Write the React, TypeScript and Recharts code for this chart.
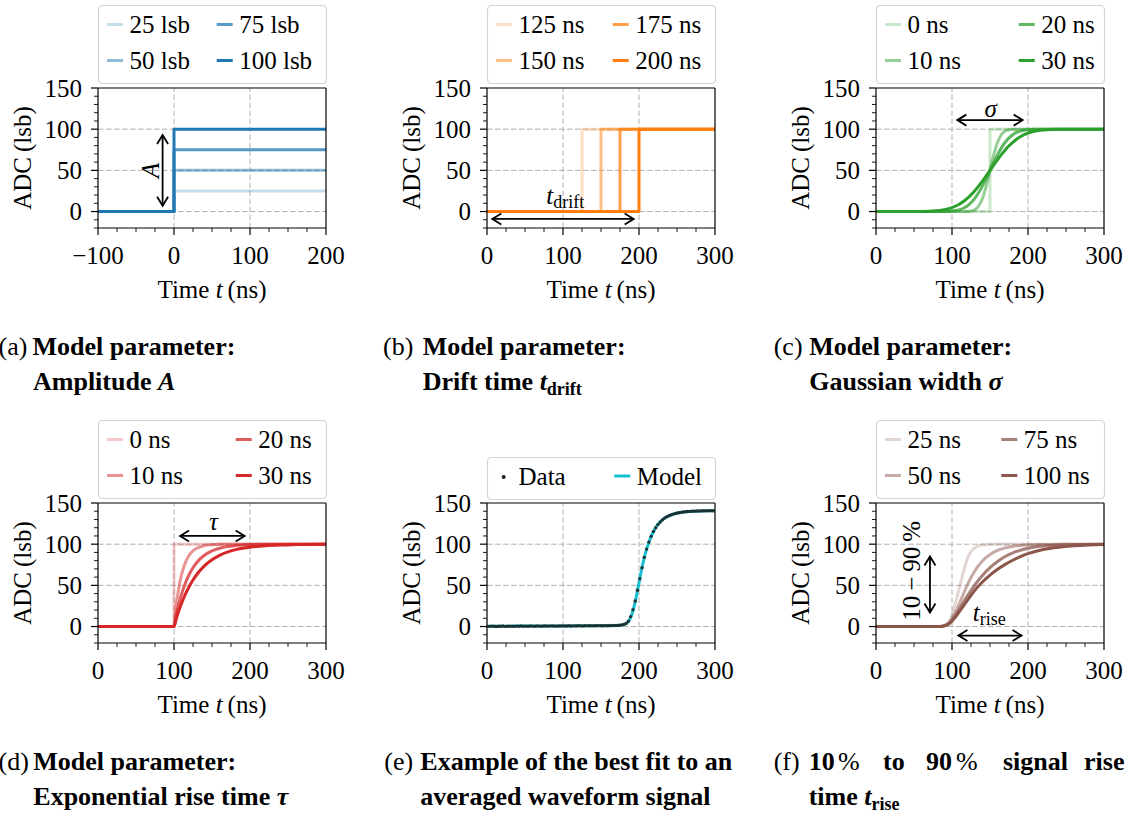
import React from 'react'
import { LineChart, Line, XAxis, YAxis, ReferenceLine, ReferenceDot } from 'recharts'

const FONT = '"Liberation Serif", "Times New Roman", serif'

// matplotlib tab colours, faded per parameter value
const BLUE = '#1f77b4'
const ORANGE = '#ff7f0e'
const GREEN = '#2ca02c'
const RED = '#d62728'
const BROWN = '#8c564b'
const CYAN = '#17becf'
const ALPHAS = [0.25, 0.5, 0.75, 1]

// ---- (a) amplitude A ----
const ampLabels = ['25 lsb', '50 lsb', '75 lsb', '100 lsb']
const ampT = [-100, 0, 0, 200]
const amp25 = [0, 0, 25, 25]
const amp50 = [0, 0, 50, 50]
const amp75 = [0, 0, 75, 75]
const amp100 = [0, 0, 100, 100]

// ---- (b) drift time ----
const driftLabels = ['125 ns', '150 ns', '175 ns', '200 ns']
const drift125T = [0, 125, 125, 300]
const drift150T = [0, 150, 150, 300]
const drift175T = [0, 175, 175, 300]
const drift200T = [0, 200, 200, 300]
const stepY = [0, 0, 100, 100]

// ---- (c) gaussian width ----
const sigmaLabels = ['0 ns', '10 ns', '20 ns', '30 ns']
const sig0T = [0, 150, 150, 300]
const sig10T = [0, 120, 125, 130, 135, 140, 145, 150, 155, 160, 165, 170, 175, 180, 190, 300]
const sig10Y = [0, 0, 0.6, 2.3, 6.7, 15.9, 30.9, 50, 69.1, 84.1, 93.3, 97.7, 99.4, 99.9, 100, 100]
const sig20T = [0, 80, 90, 100, 105, 110, 115, 120, 125, 130, 135, 140, 145, 150, 155, 160, 165, 170, 175, 180, 185, 190, 195, 200, 210, 220, 300]
const sig20Y = [0, 0, 0.1, 0.6, 1.2, 2.3, 4.0, 6.7, 10.6, 15.9, 22.7, 30.9, 40.1, 50, 59.9, 69.1, 77.3, 84.1, 89.4, 93.3, 96.0, 97.7, 98.8, 99.4, 99.9, 100, 100]
const sig30T = [0, 50, 60, 75, 90, 100, 105, 110, 115, 120, 125, 130, 135, 140, 145, 150, 155, 160, 165, 170, 175, 180, 185, 190, 195, 200, 210, 225, 240, 250, 300]
const sig30Y = [0, 0, 0.1, 0.6, 2.3, 4.8, 6.7, 9.1, 12.2, 15.9, 20.2, 25.3, 30.9, 36.9, 43.4, 50, 56.6, 63.1, 69.1, 74.8, 79.8, 84.1, 87.8, 90.9, 93.3, 95.2, 97.7, 99.4, 99.9, 100, 100]

// ---- (d) exponential rise time ----
const tauLabels = ['0 ns', '10 ns', '20 ns', '30 ns']
const tau0T = [0, 100, 100, 300]
const tau10T = [0, 100, 102, 104, 106, 108, 110, 113, 116, 120, 125, 130, 140, 150, 160, 175, 300]
const tau10Y = [0, 0, 18.1, 33.0, 45.1, 55.1, 63.2, 72.7, 79.8, 86.5, 91.8, 95.0, 98.2, 99.3, 99.8, 99.9, 100]
const tau20T = [0, 100, 103, 106, 110, 115, 120, 125, 130, 140, 150, 160, 170, 180, 200, 220, 250, 300]
const tau20Y = [0, 0, 13.9, 25.9, 39.3, 52.8, 63.2, 71.3, 77.7, 86.5, 91.8, 95.0, 97.0, 98.2, 99.3, 99.8, 99.9, 100]
const tau30T = [0, 100, 103, 106, 110, 115, 120, 125, 130, 140, 150, 160, 170, 180, 190, 200, 220, 240, 260, 300]
const tau30Y = [0, 0, 9.5, 18.1, 28.3, 39.3, 48.7, 56.5, 63.2, 73.6, 81.1, 86.5, 90.3, 93.1, 95.0, 96.4, 98.2, 99.1, 99.5, 99.9]

// ---- (e) averaged waveform and fitted model ----
const DATA_STEP_NS = 3
const waveData = [
  0.4, 0.2, 0.5, 0.3, 0.1, 0.4, 0.3, 0.6, 0.2, 0.4,
  0.5, 0.3, 0.2, 0.5, 0.4, 0.6, 0.3, 0.5, 0.4, 0.7,
  0.5, 0.3, 0.6, 0.5, 0.4, 0.7, 0.6, 0.5, 0.8, 0.6,
  0.5, 0.7, 0.6, 0.8, 0.7, 0.6, 0.9, 0.7, 0.8, 0.6,
  0.9, 0.8, 0.7, 1.0, 0.8, 0.9, 0.8, 1.0, 0.9, 1.1,
  0.9, 1.0, 1.1, 1.0, 1.2, 1.1, 1.2,
  1.2, 1.5, 1.9, 2.6, 3.6, 6.5, 12, 20.5, 31, 44,
  58, 71.5, 84, 94, 102.5, 109.5, 115.5, 120, 124, 127,
  129.6, 131.7, 133.4, 134.8, 135.9, 136.8, 137.5, 138.1, 138.6, 139,
  139.3, 139.6, 139.8, 140, 140.1, 140.3, 140.3, 140.4, 140.5, 140.4,
  140.6, 140.5, 140.6, 140.6,
]
const MODEL_STEP_NS = 5
const waveModel = [
  0.4, 0.4, 0.4, 0.4, 0.4, 0.4, 0.4, 0.5, 0.5, 0.5,
  0.5, 0.5, 0.5, 0.5, 0.6, 0.6, 0.6, 0.6, 0.6, 0.7,
  0.7, 0.7, 0.7, 0.8, 0.8, 0.8, 0.8, 0.9, 0.9, 0.9,
  1.0, 1.0, 1.0, 1.1,
  1.2, 1.5, 2.4, 5, 13, 30, 53, 76, 94, 107,
  117, 124, 129, 132.3, 134.7, 136.4, 137.6, 138.5, 139.1, 139.6,
  139.9, 140.1, 140.3, 140.4, 140.5, 140.6, 140.6,
]
const waveDataT = waveData.map((_, i) => i * DATA_STEP_NS)
const waveModelT = waveModel.map((_, i) => i * MODEL_STEP_NS)

// ---- (f) 10-90 % rise time ----
const riseLabels = ['25 ns', '50 ns', '75 ns', '100 ns']
const rise25T = [0, 80, 85, 90, 95, 100, 105, 110, 115, 120, 125, 130, 135, 140, 150, 160, 180, 300]
const rise25Y = [0, 0, 0.5, 1.5, 5, 14, 30, 48, 66, 82, 91, 95.5, 98, 99, 99.7, 99.9, 100, 100]
const rise50T = [0, 85, 90, 95, 100, 105, 110, 115, 120, 125, 130, 140, 150, 160, 170, 180, 190, 200, 220, 250, 300]
const rise50Y = [0, 0, 1, 3.5, 9.5, 18, 28.5, 39.5, 50, 59.5, 67.5, 79.5, 87.5, 92.5, 95.5, 97.3, 98.4, 99, 99.6, 99.9, 100]
const rise75T = [0, 85, 90, 95, 100, 105, 110, 115, 120, 125, 130, 140, 150, 160, 170, 180, 190, 200, 220, 240, 260, 300]
const rise75Y = [0, 0, 0.9, 3, 7.5, 14, 21.5, 29.5, 37, 44, 50.5, 62, 71.5, 79, 85, 89.5, 92.7, 95, 97.7, 99, 99.6, 100]
const rise100T = [0, 85, 90, 95, 100, 105, 110, 115, 120, 125, 130, 140, 150, 160, 170, 180, 190, 200, 220, 240, 260, 280, 300]
const rise100Y = [0, 0, 0.8, 2.5, 6.5, 12, 18.5, 25, 31.5, 38, 44, 54, 62.5, 69.5, 75.5, 80.5, 85, 88.5, 93.5, 96.3, 98, 99, 99.5]

// ---- axes ----
const Y_DOMAIN: [number, number] = [-20, 150]
const Y_TICKS = [-20, -10, 0, 10, 20, 30, 40, 50, 60, 70, 80, 90, 100, 110, 120, 130, 140, 150]
const Y_MAJOR = [0, 50, 100, 150]
const Y_GRID = [0, 50, 100]
const X_TICKS_A = [-100, -75, -50, -25, 0, 25, 50, 75, 100, 125, 150, 175, 200]
const X_MAJOR_A = [-100, 0, 100, 200]
const X_TICKS = [0, 25, 50, 75, 100, 125, 150, 175, 200, 225, 250, 275, 300]
const X_MAJOR = [0, 100, 200, 300]

// ---- geometry ----
const PLOT_W = 228
const PLOT_H = 140
const PAD_L = 100
const PAD_T = 30
const PAD_R = 40
const PAD_B = 80
const COL = [98, 487, 876]
const ROW = [88, 503]

type Pt = { t: number; y: number }
const zip = (t: number[], y: number[]): Pt[] => t.map((v, i) => ({ t: v, y: y[i] }))

interface Series {
  label: string
  color: string
  alpha: number
  t: number[]
  y: number[]
  smooth?: boolean
  dots?: boolean
}
interface Arrow { x1: number; y1: number; x2: number; y2: number }
interface Note { x: number; y: number; draw: (cx: number, cy: number) => React.ReactNode }

const fmt = (v: number) => (v < 0 ? '\u2212' + Math.abs(v) : String(v))

const makeXTick = (majors: number[]) => (p: any) => {
  const { x, y, payload } = p
  const major = majors.includes(payload.value)
  return (
    <g>
      <line x1={x} x2={x} y1={y} y2={y + (major ? 7 : 4)} stroke="#000" strokeWidth={major ? 1.2 : 0.9} />
      {major && (
        <text x={x} y={y + 35.5} textAnchor="middle" fontFamily={FONT} fontSize={25} fill="#000">
          {fmt(payload.value)}
        </text>
      )}
    </g>
  )
}

const yTick = (p: any) => {
  const { x, y, payload } = p
  const major = Y_MAJOR.includes(payload.value)
  return (
    <g>
      <line x1={x - (major ? 7 : 4)} x2={x} y1={y} y2={y} stroke="#000" strokeWidth={major ? 1.2 : 0.9} />
      {major && (
        <text x={x - 16} y={y + 8.5} textAnchor="end" fontFamily={FONT} fontSize={25} fill="#000">
          {fmt(payload.value)}
        </text>
      )}
    </g>
  )
}

// double headed "<->" arrow with open heads
const arrowShape = (p: any) => {
  const { x1, y1, x2, y2 } = p
  const dx = x2 - x1
  const dy = y2 - y1
  const len = Math.hypot(dx, dy) || 1
  const ux = dx / len
  const uy = dy / len
  const hl = 9
  const hw = 5.5
  const head = (px: number, py: number, dir: number) =>
    `M${px - dir * ux * hl - uy * hw},${py - dir * uy * hl + ux * hw} L${px},${py} L${px - dir * ux * hl + uy * hw},${py - dir * uy * hl - ux * hw}`
  return (
    <g stroke="#000" strokeWidth={1.8} fill="none" strokeLinejoin="miter">
      <line x1={x1} y1={y1} x2={x2} y2={y2} />
      <path d={head(x2, y2, 1)} />
      <path d={head(x1, y1, -1)} />
    </g>
  )
}

interface PanelProps {
  left: number
  top: number
  xDomain: [number, number]
  xTicks: number[]
  xMajor: number[]
  series: Series[]
  arrows: Arrow[]
  notes: Note[]
}

function Panel({ left, top, xDomain, xTicks, xMajor, series, arrows, notes }: PanelProps) {
  const xGrid = xMajor.filter((v) => v !== xDomain[0] && v !== xDomain[1])
  return (
    <div style={{ position: 'absolute', left: left - PAD_L, top: top - PAD_T }}>
      <LineChart
        width={PAD_L + PLOT_W + PAD_R}
        height={PAD_T + PLOT_H + PAD_B}
        margin={{ top: PAD_T, right: PAD_R, bottom: 0, left: 0 }}
      >
        <XAxis
          type="number"
          dataKey="t"
          domain={xDomain}
          ticks={xTicks}
          interval={0}
          allowDataOverflow
          height={PAD_B}
          tickSize={0}
          tickMargin={0}
          tickLine={false}
          axisLine={{ stroke: '#000', strokeWidth: 1.2 }}
          tick={makeXTick(xMajor)}
        />
        <YAxis
          type="number"
          domain={Y_DOMAIN}
          ticks={Y_TICKS}
          interval={0}
          allowDataOverflow
          width={PAD_L}
          tickSize={0}
          tickMargin={0}
          tickLine={false}
          axisLine={{ stroke: '#000', strokeWidth: 1.2 }}
          tick={yTick}
        />
        {xGrid.map((v) => (
          <ReferenceLine key={'gx' + v} x={v} stroke="#b0b0b0" strokeWidth={1} strokeDasharray="5.5 2.5" />
        ))}
        {Y_GRID.map((v) => (
          <ReferenceLine key={'gy' + v} y={v} stroke="#b0b0b0" strokeWidth={1} strokeDasharray="5.5 2.5" />
        ))}
        {series.map((s) =>
          s.dots ? (
            <Line
              key={s.label}
              data={zip(s.t, s.y)}
              dataKey="y"
              type="linear"
              stroke="transparent"
              strokeWidth={0}
              dot={{ r: 1.7, fill: '#1b2626', fillOpacity: 0.9, stroke: 'none', strokeWidth: 0 }}
              activeDot={false}
              isAnimationActive={false}
            />
          ) : (
            <Line
              key={s.label}
              data={zip(s.t, s.y)}
              dataKey="y"
              type={s.smooth ? 'monotone' : 'linear'}
              stroke={s.color}
              strokeOpacity={s.alpha}
              strokeWidth={3}
              strokeLinejoin="round"
              dot={false}
              activeDot={false}
              isAnimationActive={false}
            />
          )
        )}
        <ReferenceLine y={Y_DOMAIN[1]} stroke="#000" strokeWidth={1.2} />
        <ReferenceLine x={xDomain[1]} stroke="#000" strokeWidth={1.2} />
        {arrows.map((a, i) => (
          <ReferenceLine
            key={'ar' + i}
            segment={[{ x: a.x1, y: a.y1 }, { x: a.x2, y: a.y2 }]}
            shape={arrowShape}
            ifOverflow="visible"
          />
        ))}
        {notes.map((n, i) => (
          <ReferenceDot
            key={'nt' + i}
            x={n.x}
            y={n.y}
            r={0}
            ifOverflow="visible"
            shape={(p: any) => <g>{n.draw(p.cx, p.cy)}</g>}
          />
        ))}
      </LineChart>
    </div>
  )
}

const fade = (labels: string[], color: string, ts: number[][], ys: number[][], smooth: boolean): Series[] =>
  labels.map((label, i) => ({ label, color, alpha: ALPHAS[i], t: ts[i], y: ys[i], smooth }))

const ampSeries = fade(ampLabels, BLUE, [ampT, ampT, ampT, ampT], [amp25, amp50, amp75, amp100], false)
const driftSeries = fade(driftLabels, ORANGE, [drift125T, drift150T, drift175T, drift200T], [stepY, stepY, stepY, stepY], false)
const sigmaSeries: Series[] = [
  { label: sigmaLabels[0], color: GREEN, alpha: ALPHAS[0], t: sig0T, y: stepY },
  ...fade(sigmaLabels.slice(1), GREEN, [sig10T, sig20T, sig30T], [sig10Y, sig20Y, sig30Y], true).map((s, i) => ({ ...s, alpha: ALPHAS[i + 1] })),
]
const tauSeries: Series[] = [
  { label: tauLabels[0], color: RED, alpha: ALPHAS[0], t: tau0T, y: stepY },
  ...fade(tauLabels.slice(1), RED, [tau10T, tau20T, tau30T], [tau10Y, tau20Y, tau30Y], true).map((s, i) => ({ ...s, alpha: ALPHAS[i + 1] })),
]
const waveSeries: Series[] = [
  { label: 'Model', color: CYAN, alpha: 1, t: waveModelT, y: waveModel, smooth: true },
  { label: 'Data', color: '#1b2626', alpha: 1, t: waveDataT, y: waveData, dots: true },
]
const riseSeries = fade(riseLabels, BROWN, [rise25T, rise50T, rise75T, rise100T], [rise25Y, rise50Y, rise75Y, rise100Y], true)

const MATH = 25
const sub = (main: string, low: string) => (cx: number, cy: number) => (
  <text x={cx} y={cy} textAnchor="middle" fontFamily={FONT} fontSize={MATH} fill="#000">
    <tspan fontStyle="italic">{main}</tspan>
    <tspan fontSize={18} dy={4}>{low}</tspan>
  </text>
)
const italic = (s: string) => (cx: number, cy: number) => (
  <text x={cx} y={cy} textAnchor="middle" fontFamily={FONT} fontSize={MATH} fontStyle="italic" fill="#000">{s}</text>
)
const vertical = (s: string, it: boolean) => (cx: number, cy: number) => (
  <text
    x={cx}
    y={cy}
    transform={`rotate(-90 ${cx} ${cy})`}
    textAnchor="middle"
    fontFamily={FONT}
    fontSize={MATH}
    fontStyle={it ? 'italic' : 'normal'}
    fill="#000"
  >
    {s}
  </text>
)

// ---- legend boxes ----
interface LegendProps {
  left: number
  top: number
  height: number
  col2: number
  rows: number
  items: Series[]
}

function LegendBox({ left, top, height, col2, rows, items }: LegendProps) {
  return (
    <g>
      <rect x={left + 0.5} y={top + 0.5} width={PLOT_W} height={height} rx={4} fill="#fff" stroke="#d4d4d4" strokeWidth={1.2} />
      {items.map((s, i) => {
        const col = Math.floor(i / rows)
        const row = i % rows
        const x0 = left + (col === 0 ? 9 : col2)
        const base = top + (rows === 1 ? 27.5 : 28 + row * 36)
        return (
          <g key={s.label}>
            {s.dots ? (
              <circle cx={x0 + 7.7} cy={base - 7.5} r={2} fill={s.color} />
            ) : (
              <line x1={x0} x2={x0 + 16} y1={base - 8.5} y2={base - 8.5} stroke={s.color} strokeOpacity={s.alpha} strokeWidth={3} />
            )}
            <text x={x0 + 22.5} y={base} fontFamily={FONT} fontSize={25} fill="#000">{s.label}</text>
          </g>
        )
      })}
    </g>
  )
}

function AxisTitles({ left, top }: { left: number; top: number }) {
  const bx = left - 67
  const cy = top + PLOT_H / 2
  return (
    <g fontFamily={FONT} fontSize={25} fill="#000">
      <text x={bx} y={cy} transform={`rotate(-90 ${bx} ${cy})`} textAnchor="middle">ADC{'\u2009'}(lsb)</text>
      <text x={left + PLOT_W / 2} y={top + PLOT_H + 70} textAnchor="middle">
        Time <tspan fontStyle="italic">t</tspan>{'\u2009'}(ns)
      </text>
    </g>
  )
}

function Captions() {
  const r1 = 355
  const r2 = 390
  const r3 = 770
  const r4 = 805
  return (
    <g fontFamily={FONT} fontSize={26} fill="#000">
      <text x={-1.5} y={r1}>(a)<tspan x={32.5} fontWeight={700}>Model parameter:</tspan></text>
      <text x={33} y={r2} fontWeight={700}>Amplitude <tspan fontStyle="italic">A</tspan></text>

      <text x={383} y={r1}>(b)<tspan x={422.7} fontWeight={700}>Model parameter:</tspan></text>
      <text x={422.7} y={r2} fontWeight={700}>
        Drift time <tspan fontStyle="italic">t</tspan><tspan fontSize={18} dy={5}>drift</tspan>
      </text>

      <text x={773.7} y={r1}>(c)<tspan x={809.3} fontWeight={700}>Model parameter:</tspan></text>
      <text x={809.3} y={r2} fontWeight={700}>Gaussian width <tspan fontStyle="italic">σ</tspan></text>

      <text x={-1.5} y={r3}>(d)<tspan x={33.3} fontWeight={700}>Model parameter:</tspan></text>
      <text x={33.3} y={r4} fontWeight={700}>Exponential rise time <tspan fontStyle="italic">τ</tspan></text>

      <text x={384.3} y={r3}>(e)<tspan x={420.3} fontWeight={700}>Example of the best fit to an</tspan></text>
      <text x={420.3} y={r4} fontWeight={700}>averaged waveform signal</text>

      <text x={773.7} y={r3}>(f)</text>
      <text y={r3} fontWeight={700}>
        <tspan x={808.7}>10</tspan>
        <tspan x={838} fontWeight={400}>%</tspan>
        <tspan x={883}>to</tspan>
        <tspan x={926}>90</tspan>
        <tspan x={956} fontWeight={400}>%</tspan>
        <tspan x={1003}>signal</tspan>
        <tspan x={1084}>rise</tspan>
      </text>
      <text x={808.7} y={r4} fontWeight={700}>
        time <tspan fontStyle="italic">t</tspan><tspan fontSize={18} dy={5}>rise</tspan>
      </text>
    </g>
  )
}

export default function App() {
  const panels: PanelProps[] = [
    {
      left: COL[0], top: ROW[0], xDomain: [-100, 200], xTicks: X_TICKS_A, xMajor: X_MAJOR_A, series: ampSeries,
      arrows: [{ x1: -15, y1: 93, x2: -15, y2: 7 }],
      notes: [{ x: -20, y: 50, draw: vertical('A', true) }],
    },
    {
      left: COL[1], top: ROW[0], xDomain: [0, 300], xTicks: X_TICKS, xMajor: X_MAJOR, series: driftSeries,
      arrows: [{ x1: 7, y1: -9, x2: 193, y2: -9 }],
      notes: [{ x: 103, y: 9, draw: sub('t', 'drift') }],
    },
    {
      left: COL[2], top: ROW[0], xDomain: [0, 300], xTicks: X_TICKS, xMajor: X_MAJOR, series: sigmaSeries,
      arrows: [{ x1: 107, y1: 111, x2: 193, y2: 111 }],
      notes: [{ x: 151, y: 114.5, draw: italic('σ') }],
    },
    {
      left: COL[0], top: ROW[1], xDomain: [0, 300], xTicks: X_TICKS, xMajor: X_MAJOR, series: tauSeries,
      arrows: [{ x1: 108, y1: 110, x2: 193, y2: 110 }],
      notes: [{ x: 152, y: 117, draw: italic('τ') }],
    },
    {
      left: COL[1], top: ROW[1], xDomain: [0, 300], xTicks: X_TICKS, xMajor: X_MAJOR, series: waveSeries,
      arrows: [],
      notes: [],
    },
    {
      left: COL[2], top: ROW[1], xDomain: [0, 300], xTicks: X_TICKS, xMajor: X_MAJOR, series: riseSeries,
      arrows: [
        { x1: 71, y1: 85, x2: 71, y2: 17 },
        { x1: 108.5, y1: -11, x2: 191.5, y2: -11 },
      ],
      notes: [
        { x: 58, y: 67.7, draw: vertical('10\u2009\u2212\u200990\u2009%', false) },
        { x: 149, y: 7.3, draw: sub('t', 'rise') },
      ],
    },
  ]

  const legends: LegendProps[] = [
    { left: COL[0], top: 5, height: 78, col2: 118.7, rows: 2, items: ampSeries },
    { left: COL[1], top: 5, height: 78, col2: 125.7, rows: 2, items: driftSeries },
    { left: COL[2], top: 5, height: 78, col2: 142.7, rows: 2, items: sigmaSeries },
    { left: COL[0], top: 420, height: 78, col2: 137.7, rows: 2, items: tauSeries },
    { left: COL[1], top: 457, height: 42, col2: 127.3, rows: 1, items: [waveSeries[1], waveSeries[0]] },
    { left: COL[2], top: 420, height: 78, col2: 125.3, rows: 2, items: riseSeries },
  ]

  return (
    <div
      style={{
        position: 'absolute',
        left: 0,
        top: 0,
        width: 1128,
        height: 818,
        overflow: 'hidden',
        background: '#fff',
      }}
    >
      {panels.map((p, i) => (
        <Panel key={i} {...p} />
      ))}
      <svg width={1128} height={818} style={{ position: 'absolute', left: 0, top: 0, pointerEvents: 'none' }}>
        {legends.map((l, i) => (
          <LegendBox key={i} {...l} />
        ))}
        {panels.map((p, i) => (
          <AxisTitles key={i} left={p.left} top={p.top} />
        ))}
        <Captions />
      </svg>
    </div>
  )
}
